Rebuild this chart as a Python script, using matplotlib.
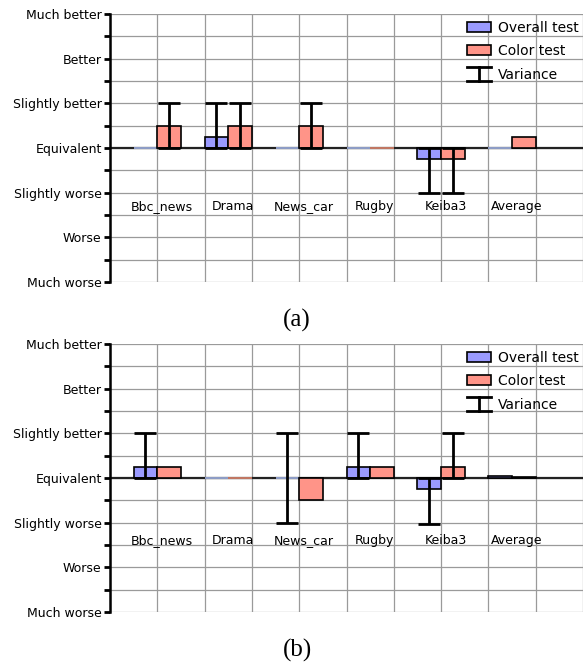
import numpy as np
import matplotlib
matplotlib.use("Agg")
import matplotlib.pyplot as plt
from matplotlib.lines import Line2D
from matplotlib.patches import Patch
from matplotlib.legend_handler import HandlerBase

categories = ["Bbc_news", "Drama", "News_car", "Rugby", "Keiba3", "Average"]
levels = ["Much worse", "Worse", "Slightly worse", "Equivalent",
          "Slightly better", "Better", "Much better"]

# (a)
overall_a = [0, 0.25, 0, 0, -0.25, 0]
color_a = [0.5, 0.5, 0.5, 0, -0.25, 0.25]
overall_a_err = [None, (0, 1), None, None, (-1, 0), None]
color_a_err = [(0, 1), (0, 1), (0, 1), None, (-1, 0), None]

# (b)
overall_b = [0.25, 0, 0, 0.25, -0.25, 0.04]
color_b = [0.25, 0, -0.5, 0.25, 0.25, 0.03]
overall_b_err = [(0, 1), None, (-1, 1), (0, 1), (-1.03, 0), None]
color_b_err = [None, None, None, None, (0, 1), None]

BLUE, RED = "#9a9aff", "#ff9488"
BLUE_FLAT, RED_FLAT = "#a3b5e6", "#e0876f"


class IBarHandler(HandlerBase):
    # little "I" symbol for the variance entry
    def create_artists(self, legend, orig_handle, xd, yd, width, height, fontsize, trans):
        y0, y1 = -yd - 1.5, -yd + height + 1.5
        xm = -xd + width / 2
        kw = dict(color="black", lw=2, transform=trans)
        return [Line2D([xm, xm], [y0, y1], **kw),
                Line2D([-xd, -xd + width], [y0, y0], **kw),
                Line2D([-xd, -xd + width], [y1, y1], **kw)]


def draw(ax, overall, color, overall_err, color_err, label_y):
    xc = 1 + 1.5 * np.arange(len(categories))
    ax.set_xlim(0, 9.92)
    ax.set_ylim(-3, 3)
    ax.set_xticks(np.arange(0, 11))
    ax.set_xticklabels([])
    ax.tick_params(axis="x", length=0)
    ax.set_yticks(np.arange(-3, 4))
    ax.set_yticklabels(levels, fontsize=9)
    ax.set_yticks(np.arange(-2.5, 3, 1), minor=True)
    ax.tick_params(axis="y", which="both", direction="out", length=4, width=2, pad=2)
    ax.grid(True, which="both", color="#9a9a9a", lw=0.9)
    ax.set_axisbelow(True)
    for s in ["top", "right", "bottom"]:
        ax.spines[s].set_visible(False)
    ax.spines["left"].set_linewidth(1.8)
    ax.axhline(0, color="#222222", lw=1.6, zorder=2)

    for vals, errs, off, fc, flat in [(overall, overall_err, -0.25, BLUE, BLUE_FLAT),
                                      (color, color_err, 0.25, RED, RED_FLAT)]:
        ecs = ["black" if v != 0 else flat for v in vals]
        ax.bar(xc + off, vals, width=0.5, color=fc, edgecolor=ecs, lw=1.2, zorder=3)
        for x, v, e in zip(xc + off, vals, errs):
            if e is None:
                continue
            ax.errorbar(x, v, yerr=[[v - e[0]], [e[1] - v]], fmt="none",
                        ecolor="black", elinewidth=2, capsize=8, capthick=2, zorder=4)
    for x, name in zip(xc, categories):
        ax.text(x + 0.1, label_y, name, ha="center", va="center", fontsize=9)

    handles = [Patch(facecolor=BLUE, edgecolor="black", lw=1.2),
               Patch(facecolor=RED, edgecolor="black", lw=1.2),
               "variance"]
    ax.legend(handles, ["Overall test", "Color test", "Variance"], loc="upper left",
              bbox_to_anchor=(0.755, 0.975), frameon=False, fontsize=10,
              borderpad=0, borderaxespad=0,
              handlelength=1.75, handleheight=0.75, labelspacing=0.68, handletextpad=0.45,
              handler_map={str: IBarHandler()})


fig = plt.figure(figsize=(5.83, 6.62), dpi=100)
ax1 = fig.add_axes([110 / 583, 1 - 282 / 662, 1 - 110 / 583, 268 / 662])
ax2 = fig.add_axes([110 / 583, 1 - 612 / 662, 1 - 110 / 583, 268 / 662])
draw(ax1, overall_a, color_a, overall_a_err, color_a_err, -1.3)
draw(ax2, overall_b, color_b, overall_b_err, color_b_err, -1.4)

fig.text(297 / 583, 1 - 320 / 662, "(a)", ha="center", va="center",
         family="Liberation Serif", fontsize=18)
fig.text(297 / 583, 1 - 650 / 662, "(b)", ha="center", va="center",
         family="Liberation Serif", fontsize=18)

fig.savefig("out.png", dpi=100)
